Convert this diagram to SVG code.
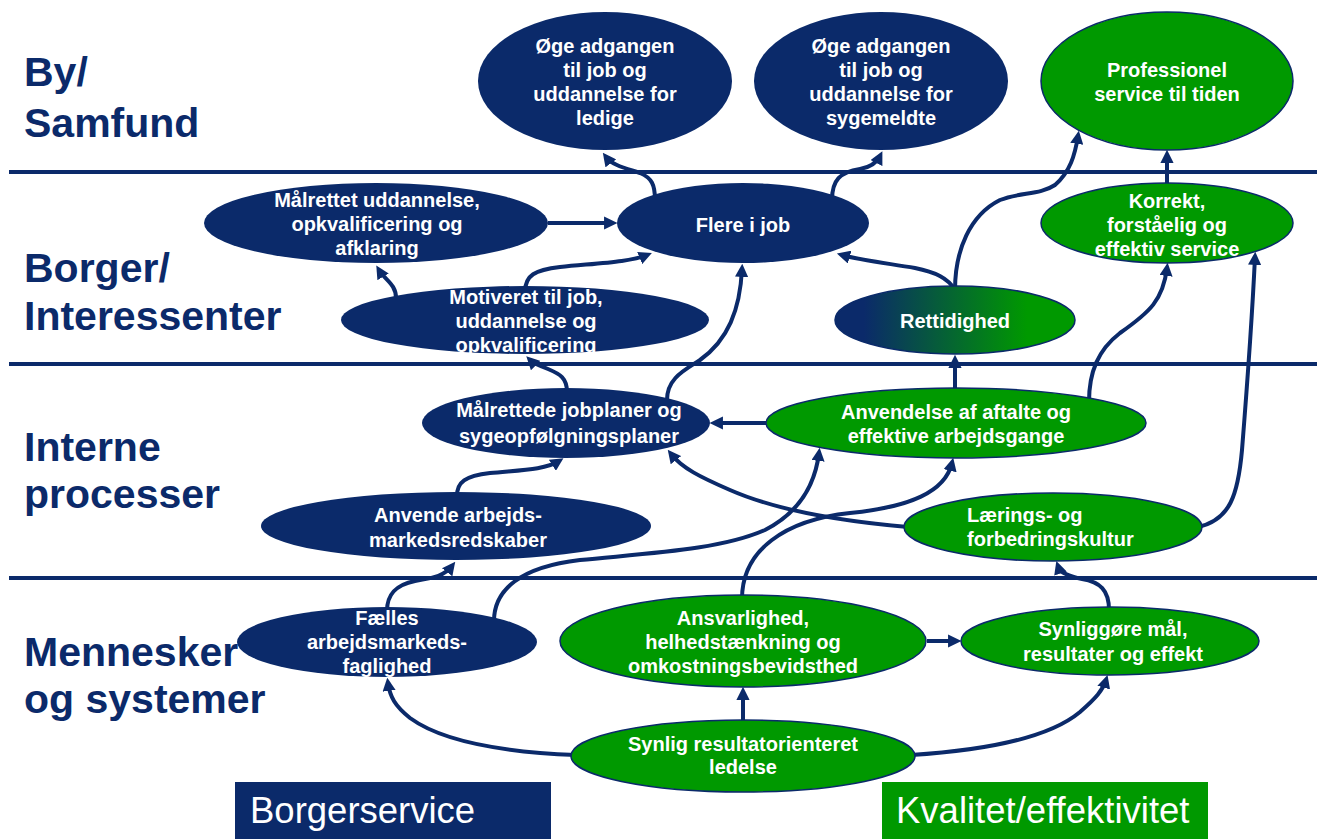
<svg xmlns="http://www.w3.org/2000/svg" width="1317" height="839" viewBox="0 0 1317 839">
<style>
.nv{fill:#0b2a6a}
.gr{fill:#009900;stroke:#0b2a6a;stroke-width:1.5}
.t{font-family:"Liberation Sans",Arial,sans-serif;font-weight:bold;font-size:20px;fill:#fff;text-anchor:middle}
.lbl{font-family:"Liberation Sans",Arial,sans-serif;font-weight:bold;font-size:41px;fill:#0b2a6a}
.box{font-family:"Liberation Sans",Arial,sans-serif;font-size:36.5px;fill:#fff}
.c{fill:none;stroke:#0b2a6a;stroke-width:4;marker-end:url(#ah)}
.hl{stroke:#0b2a6a;stroke-width:4}
</style>
<defs>
<marker id="ah" viewBox="0 0 10 10" refX="6" refY="5" markerWidth="3.3" markerHeight="3.3" orient="auto" markerUnits="strokeWidth">
<path d="M0,0 L10,5 L0,10 z" fill="#0b2a6a"/>
</marker>
<linearGradient id="rg" x1="0" y1="0" x2="1" y2="0">
<stop offset="0.12" stop-color="#0b2a6a"/>
<stop offset="0.8" stop-color="#009900"/>
</linearGradient>
</defs>
<rect width="1317" height="839" fill="#fff"/>
<g id="lanes">
<line class="hl" x1="9" y1="172" x2="1317" y2="172"/>
<line class="hl" x1="9" y1="364" x2="1317" y2="364"/>
<line class="hl" x1="9" y1="578" x2="1317" y2="578"/>
<text class="lbl" x="24" y="86">By/</text>
<text class="lbl" x="24" y="137">Samfund</text>
<text class="lbl" x="24" y="282">Borger/</text>
<text class="lbl" x="24" y="330">Interessenter</text>
<text class="lbl" x="24" y="461">Interne</text>
<text class="lbl" x="24" y="508">processer</text>
<text class="lbl" x="24" y="666">Mennesker</text>
<text class="lbl" x="24" y="713">og systemer</text>
</g>
<g id="connectors">
<path class="c" d="M655,200 C655,185 652,178 640,173 C625,168 612,165 606,157"/>
<path class="c" d="M832,200 C832,180 840,172 860,169 C872,167 877,162 880,156"/>
<path class="c" d="M548,223 L612,223"/>
<path class="c" d="M396,298 C396,284 385,280 379,270"/>
<path class="c" d="M525,292 C525,275 535,270 560,267 C600,263 630,262 647,255"/>
<path class="c" d="M567,392 C567,378 560,374 548,369 C538,365 533,363 530,360"/>
<path class="c" d="M667,400 C667,378 685,370 700,360 C728,340 740,310 742,269"/>
<path class="c" d="M766,423 L715,423"/>
<path class="c" d="M955,290 C948,278 935,272 915,268 C885,263 860,260 842,255"/>
<path class="c" d="M955,290 C955,250 970,215 1000,200 C1020,192 1040,195 1055,185 C1070,172 1075,155 1078,136"/>
<path class="c" d="M955,389 L955,360"/>
<path class="c" d="M1089,402 C1089,372 1098,350 1120,333 C1150,312 1163,300 1167,268"/>
<path class="c" d="M1198,527 C1230,520 1238,495 1242,450 C1246,400 1252,320 1255,257"/>
<path class="c" d="M1167,183 L1167,155"/>
<path class="c" d="M908,527 C850,522 780,512 730,490 C700,477 682,468 671,454"/>
<path class="c" d="M457,496 C457,482 465,476 490,473 C520,470 545,470 559,461"/>
<path class="c" d="M387,611 C387,595 395,585 415,581 C435,578 445,575 452,566"/>
<path class="c" d="M494,621 C494,590 520,567 580,560 C650,553 720,550 765,530 C800,512 815,485 819,453"/>
<path class="c" d="M742,599 C742,550 785,520 850,513 C910,507 945,492 952,463"/>
<path class="c" d="M1109,610 C1109,590 1100,582 1082,579 C1066,576 1060,572 1058,566"/>
<path class="c" d="M927,641 L956,641"/>
<path class="c" d="M743,720 L743,692"/>
<path class="c" d="M576,755 C500,752 440,740 410,718 C395,706 390,697 388,683"/>
<path class="c" d="M911,755 C990,750 1050,737 1080,712 C1096,698 1103,690 1106,680"/>
</g>
<g id="n-ledige">
<ellipse class="nv" cx="605" cy="81" rx="127" ry="69"/>
<text class="t" x="605" y="53">Øge adgangen</text>
<text class="t" x="605" y="77">til job og</text>
<text class="t" x="605" y="101">uddannelse for</text>
<text class="t" x="605" y="125">ledige</text>
</g>
<g id="n-sygemeldte">
<ellipse class="nv" cx="881" cy="81" rx="127" ry="69"/>
<text class="t" x="881" y="53">Øge adgangen</text>
<text class="t" x="881" y="77">til job og</text>
<text class="t" x="881" y="101">uddannelse for</text>
<text class="t" x="881" y="125">sygemeldte</text>
</g>
<g id="n-professionel">
<ellipse class="gr" cx="1167" cy="81" rx="126" ry="69"/>
<text class="t" x="1167" y="77">Professionel</text>
<text class="t" x="1167" y="101">service til tiden</text>
</g>
<g id="n-maalrettet">
<ellipse class="nv" cx="376" cy="223" rx="172" ry="40"/>
<text class="t" x="377" y="207">Målrettet uddannelse,</text>
<text class="t" x="377" y="231">opkvalificering og</text>
<text class="t" x="377" y="255">afklaring</text>
</g>
<g id="n-flere">
<ellipse class="nv" cx="743" cy="223" rx="126" ry="40"/>
<text class="t" x="743" y="232">Flere i job</text>
</g>
<g id="n-korrekt">
<ellipse class="gr" cx="1167" cy="223" rx="126" ry="40"/>
<text class="t" x="1167" y="208">Korrekt,</text>
<text class="t" x="1167" y="232">forståelig og</text>
<text class="t" x="1167" y="256">effektiv service</text>
</g>
<g id="n-motiveret">
<ellipse class="nv" cx="525" cy="320" rx="184" ry="34"/>
<text class="t" x="526" y="304">Motiveret til job,</text>
<text class="t" x="526" y="328">uddannelse og</text>
<text class="t" x="526" y="352">opkvalificering</text>
</g>
<g id="n-rettidighed">
<ellipse cx="955" cy="320" rx="120" ry="34" fill="url(#rg)" stroke="#0b2a6a" stroke-width="1.5"/>
<text class="t" x="955" y="328">Rettidighed</text>
</g>
<g id="n-jobplaner">
<ellipse class="nv" cx="566" cy="423" rx="144" ry="35"/>
<text class="t" x="569" y="417">Målrettede jobplaner og</text>
<text class="t" x="569" y="443">sygeopfølgningsplaner</text>
</g>
<g id="n-anvendelse">
<ellipse class="gr" cx="956" cy="423" rx="190" ry="35"/>
<text class="t" x="956" y="419">Anvendelse af aftalte og</text>
<text class="t" x="956" y="443">effektive arbejdsgange</text>
</g>
<g id="n-anvende">
<ellipse class="nv" cx="456" cy="526" rx="195" ry="34"/>
<text class="t" x="458" y="522">Anvende arbejds-</text>
<text class="t" x="458" y="547">markedsredskaber</text>
</g>
<g id="n-laerings">
<ellipse class="gr" cx="1053" cy="527" rx="149" ry="34"/>
<text class="t" x="967" y="522" style="text-anchor:start">Lærings- og</text>
<text class="t" x="967" y="546" style="text-anchor:start">forbedringskultur</text>
</g>
<g id="n-faelles">
<ellipse class="nv" cx="387" cy="642" rx="150" ry="35"/>
<text class="t" x="387" y="625">Fælles</text>
<text class="t" x="387" y="649">arbejdsmarkeds-</text>
<text class="t" x="387" y="673">faglighed</text>
</g>
<g id="n-ansvarlighed">
<ellipse class="gr" cx="743" cy="641" rx="183" ry="46"/>
<text class="t" x="743" y="625">Ansvarlighed,</text>
<text class="t" x="743" y="649">helhedstænkning og</text>
<text class="t" x="743" y="673">omkostningsbevidsthed</text>
</g>
<g id="n-synliggoere">
<ellipse class="gr" cx="1110" cy="641" rx="149" ry="34"/>
<text class="t" x="1113" y="636">Synliggøre mål,</text>
<text class="t" x="1113" y="661">resultater og effekt</text>
</g>
<g id="n-synlig">
<ellipse class="gr" cx="743" cy="756" rx="172" ry="36"/>
<text class="t" x="743" y="751">Synlig resultatorienteret</text>
<text class="t" x="743" y="774">ledelse</text>
</g>
<g id="legend-borgerservice">
<rect x="235" y="782" width="316" height="57" fill="#0b2a6a"/>
<text class="box" x="250" y="823">Borgerservice</text>
</g>
<g id="legend-kvalitet">
<rect x="882" y="782" width="326" height="57" fill="#009900"/>
<text class="box" x="896" y="823">Kvalitet/effektivitet</text>
</g>
</svg>
